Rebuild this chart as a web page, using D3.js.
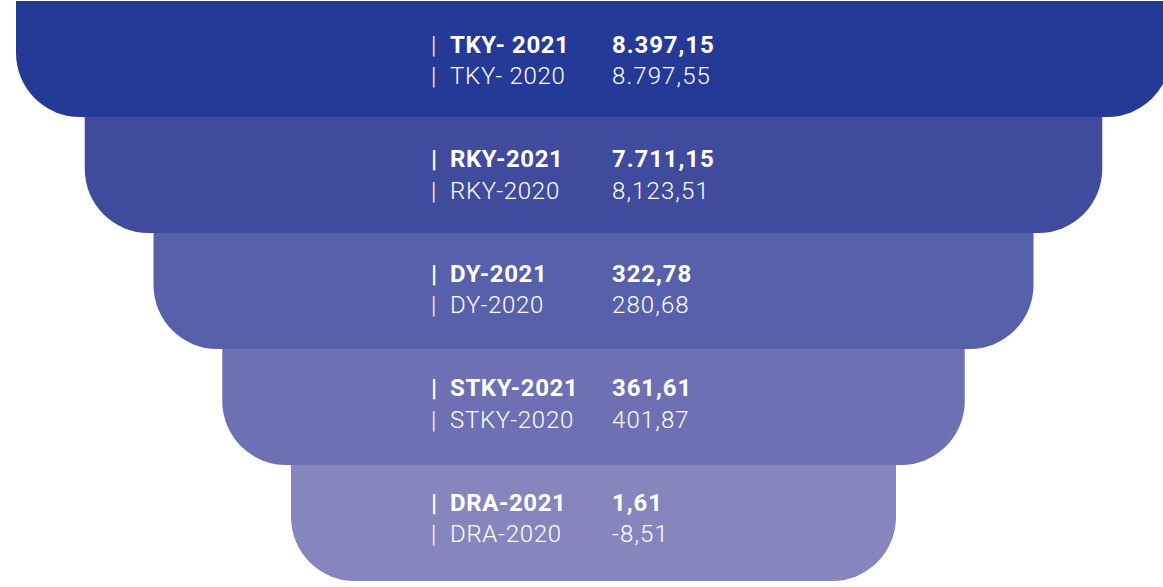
<!DOCTYPE html>
<html>
<head>
<meta charset="utf-8">
<script src="https://cdn.jsdelivr.net/npm/d3@7"></script>
<style>
  html, body { margin: 0; padding: 0; background: #fff; }
  svg { display: block; }
  text { font-family: Roboto, "DejaVu Sans", sans-serif; fill: #fff; }
</style>
</head>
<body>
<svg width="1163" height="587"></svg>
<script>
let levels = ["TKY", "RKY", "DY", "STKY", "DRA"];
let labels2021 = ["TKY- 2021", "RKY-2021", "DY-2021", "STKY-2021", "DRA-2021"];
let labels2020 = ["TKY- 2020", "RKY-2020", "DY-2020", "STKY-2020", "DRA-2020"];
let values2021 = ["8.397,15", "7.711,15", "322,78", "361,61", "1,61"];
let values2020 = ["8.797,55", "8,123,51", "280,68", "401,87", "-8,51"];
let colors = ["#243a96", "#404b9d", "#5760aa", "#6d70b2", "#8685bd"];

let svg = d3.select('svg');
let centerX = 593.5;
let radius = 64;

let y = d3.scaleBand().domain(levels).range([1, 581]);
let w = d3.scaleLinear().domain([0, levels.length - 1]).range([1155, 605]);
// text rows are spaced a little tighter than the layers
let rowY = d3.scalePoint().domain(levels).range([52.5, 510.5]);

function layerPath(i){
    let top = y(levels[i]);
    let bottom = top + y.bandwidth();
    let left = centerX - w(i) / 2;
    let right = centerX + w(i) / 2;
    let p = d3.path();
    p.moveTo(left, top);
    p.lineTo(right, top);
    p.lineTo(right, bottom - radius);
    p.arcTo(right, bottom, right - radius, bottom, radius);
    p.lineTo(left + radius, bottom);
    p.arcTo(left, bottom, left, bottom - radius, radius);
    p.closePath();
    return p.toString();
}

let layers = svg.selectAll('g.layer').data(levels).enter().append('g').attr('class', 'layer');

layers.append('path')
    .attr('d', (d, i) => layerPath(i))
    .attr('fill', (d, i) => colors[i]);

let barX = 431, labelX = 450, valueX = 612;

// first row (2021, bold)
layers.append('text')
    .attr('x', barX)
    .attr('y', (d) => rowY(d))
    .attr('font-size', 24)
    .attr('font-weight', (d, i) => i == 0 ? 300 : 700)
    .text('|');
layers.append('text')
    .attr('x', labelX)
    .attr('y', (d) => rowY(d))
    .attr('font-size', 24)
    .attr('font-weight', 700)
    .attr('letter-spacing', 0.6)
    .text((d, i) => labels2021[i]);
layers.append('text')
    .attr('x', valueX)
    .attr('y', (d) => rowY(d))
    .attr('font-size', 24)
    .attr('font-weight', 700)
    .attr('letter-spacing', 0.9)
    .text((d, i) => values2021[i]);

// second row (2020, light)
layers.append('text')
    .attr('x', barX)
    .attr('y', (d) => rowY(d) + 31.5)
    .attr('font-size', 24)
    .attr('font-weight', 300)
    .text('|');
layers.append('text')
    .attr('x', labelX)
    .attr('y', (d) => rowY(d) + 31.5)
    .attr('font-size', 24)
    .attr('font-weight', 300)
    .attr('letter-spacing', 0.7)
    .text((d, i) => labels2020[i]);
layers.append('text')
    .attr('x', valueX)
    .attr('y', (d) => rowY(d) + 31.5)
    .attr('font-size', 24)
    .attr('font-weight', 300)
    .attr('letter-spacing', 1.1)
    .text((d, i) => values2020[i]);
</script>
</body>
</html>
